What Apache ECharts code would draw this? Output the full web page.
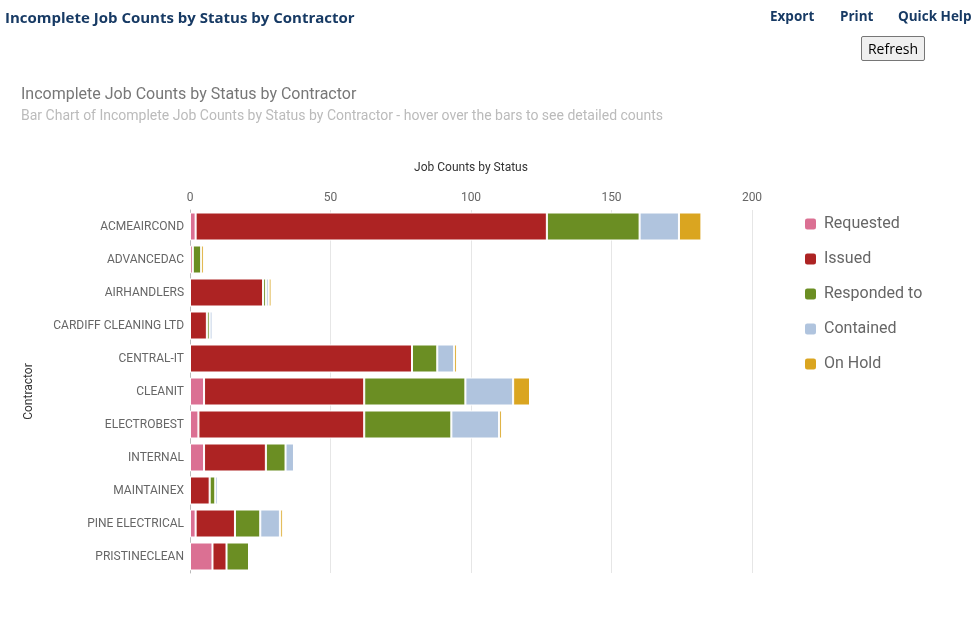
<!DOCTYPE html>
<html>
<head>
<meta charset="utf-8">
<script src="https://cdn.jsdelivr.net/npm/echarts@6/dist/echarts.min.js"></script>
<style>
  html, body { margin: 0; padding: 0; background: #fff; width: 975px; height: 635px; overflow: hidden; }
  #chart { position: absolute; left: 0; top: 0; width: 975px; height: 635px; }
  .hdr { position: absolute; font-family: "Open Sans", "Liberation Sans", sans-serif; font-weight: bold; color: #173a64; font-size: 14px; top: 7px; z-index: 2; white-space: nowrap; }
  #refresh { position: absolute; left: 861px; top: 36px; width: 64px; height: 25px; font-family: "Open Sans", "Liberation Sans", sans-serif; font-size: 14px; z-index: 2; background: #efefef; border: 1px solid #767676; border-radius: 2px; padding: 0; color: #000; }
</style>
</head>
<body>
<div class="hdr" style="left:5px; font-size:15px;">Incomplete Job Counts by Status by Contractor</div>
<div class="hdr" style="left:770px; font-size:13.5px;">Export</div>
<div class="hdr" style="left:840px; font-size:13.5px;">Print</div>
<div class="hdr" style="left:898px; font-size:13.5px;">Quick Help</div>
<button id="refresh">Refresh</button>
<div id="chart"></div>
<script>
const contractors = ["ACMEAIRCOND", "ADVANCEDAC", "AIRHANDLERS", "CARDIFF CLEANING LTD", "CENTRAL-IT", "CLEANIT", "ELECTROBEST", "INTERNAL", "MAINTAINEX", "PINE ELECTRICAL", "PRISTINECLEAN"];
const requested   = [2, 1, 0, 0, 0, 5, 3, 5, 0, 2, 8];
const issued      = [125, 0, 26, 6, 79, 57, 59, 22, 7, 14, 5];
const respondedTo = [33, 3, 1, 1, 9, 36, 31, 7, 2, 9, 8];
const contained   = [14, 0, 1, 1, 6, 17, 17, 3, 1, 7, 0];
const onHold      = [8, 1, 1, 0, 1, 6, 1, 0, 0, 1, 0];
const xTicks = [0, 50, 100, 150, 200];

const seriesDefs = [
  { name: "Requested", data: requested, color: "#db7093" },
  { name: "Issued", data: issued, color: "#ad2323" },
  { name: "Responded to", data: respondedTo, color: "#6b8e23" },
  { name: "Contained", data: contained, color: "#b0c4de" },
  { name: "On Hold", data: onHold, color: "#daa520" }
];

const chart = echarts.init(document.getElementById("chart"), null, { renderer: "canvas" });
const font = "Roboto, 'Noto Sans', sans-serif";
chart.setOption({
  animation: false,
  textStyle: { fontFamily: font },
  title: {
    text: "Incomplete Job Counts by Status by Contractor",
    subtext: "Bar Chart of Incomplete Job Counts by Status by Contractor - hover over the bars to see detailed counts",
    left: 16, top: 82,
    itemGap: 6,
    textStyle: { fontFamily: font, fontSize: 16, fontWeight: "normal", color: "#777" },
    subtextStyle: { fontFamily: font, fontSize: 14, color: "#bbb" }
  },
  legend: {
    orient: "vertical",
    left: 803, top: 216,
    padding: 0,
    itemWidth: 13, itemHeight: 13, itemGap: 19,
    icon: "roundRect",
    textStyle: { fontFamily: font, fontSize: 16, color: "#666", padding: [2, 0, 0, 2] },
    data: seriesDefs.map(s => s.name)
  },
  tooltip: { trigger: "axis", axisPointer: { type: "shadow" } },
  grid: { left: 190, right: 223, top: 210, bottom: 62, containLabel: false },
  xAxis: {
    type: "value",
    position: "top",
    min: xTicks[0], max: xTicks[xTicks.length - 1], interval: 50,
    name: "Job Counts by Status",
    nameLocation: "middle",
    nameGap: 36,
    nameTextStyle: { fontFamily: font, fontSize: 12, color: "#333" },
    axisLine: { show: false },
    axisTick: { show: false },
    axisLabel: { fontFamily: font, fontSize: 12, color: "#666", margin: 6 },
    splitLine: { show: true, lineStyle: { color: "#e6e6e6", width: 1 } }
  },
  yAxis: {
    type: "category",
    inverse: true,
    data: contractors,
    name: "Contractor",
    nameLocation: "middle",
    nameRotate: 90,
    nameGap: 155,
    nameTextStyle: { fontFamily: font, fontSize: 12, color: "#333" },
    axisLine: { show: true, lineStyle: { color: "#bbb" } },
    axisTick: { show: false },
    axisLabel: { fontFamily: font, fontSize: 12, color: "#666", margin: 6 }
  },
  series: seriesDefs.map(s => ({
    name: s.name,
    type: "bar",
    stack: "total",
    data: s.data,
    barWidth: 28,
    itemStyle: { color: s.color, borderColor: "#fff", borderWidth: 1 },
    emphasis: { focus: "none" }
  }))
});
</script>
</body>
</html>
